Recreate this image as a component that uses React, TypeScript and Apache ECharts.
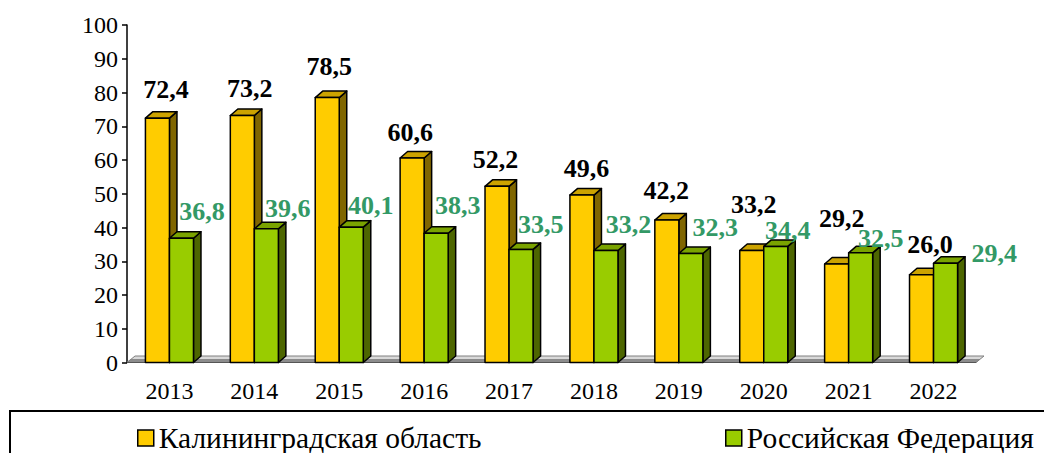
import React, { useEffect, useRef } from "react";
import * as echarts from "echarts";

const years = ["2013", "2014", "2015", "2016", "2017", "2018", "2019", "2020", "2021", "2022"];
const kaliningrad = [72.4, 73.2, 78.5, 60.6, 52.2, 49.6, 42.2, 33.2, 29.2, 26.0];
const russia = [36.8, 39.6, 40.1, 38.3, 33.5, 33.2, 32.3, 34.4, 32.5, 29.4];
const seriesNames = ["Калининградская область", "Российская Федерация"];
const yTicks = { min: 0, max: 100, interval: 10 };

// label nudges (pixels) relative to bar front-centre / top, as placed in the original
const kalLabelDX = [8.5, 7.5, 2, -2, -1.5, 4.5, -0.6, 2, 5, 8.5];
const kalLabelDY = [-29, -27, -31, -25.5, -27.3, -26.8, -30, -46, -45, -30.7];
const rusLabelDX = [20.5, 21.5, 19.5, 21.7, 19.8, 22.5, 24.5, 12, 20, 48.6];
const rusLabelDY = [-27, -20, -21.4, -27.4, -25.4, -26.4, -25.5, -16.4, -14.5, -9.3];

const FONT = "Liberation Serif, Times New Roman, serif";
const BAR_FRAC = 0.283;
const DX = 7.5;
const DY = -6.5;

const palettes = [
  { front: "#FFCC00", top: "#CCA300", side: "#806600", label: "#000000" },
  { front: "#99CC00", top: "#7AA300", side: "#4D6600", label: "#339966" },
];

const fmt = (v: number) => v.toFixed(1).replace(".", ",");

function makeRender(kind: number) {
  const pal = palettes[kind];
  const ldx = kind === 0 ? kalLabelDX : rusLabelDX;
  const ldy = kind === 0 ? kalLabelDY : rusLabelDY;
  return (params: any, api: any) => {
    const idx = api.value(0);
    const v = api.value(1);
    const p0 = api.coord([idx, 0]);
    const p1 = api.coord([idx, v]);
    const cx = p0[0];
    const y0 = p0[1];
    const y1 = p1[1];
    const band = api.size([1, 0])[0];
    const w = band * BAR_FRAC;
    const x0 = kind === 0 ? cx - w : cx;
    const x1 = x0 + w;
    const stroke = { stroke: "#000", lineWidth: 1.5, lineJoin: "round" };
    return {
      type: "group",
      children: [
        {
          type: "polygon",
          shape: { points: [[x1, y1], [x1 + DX, y1 + DY], [x1 + DX, y0 + DY], [x1, y0]] },
          style: { fill: pal.side, ...stroke },
        },
        {
          type: "polygon",
          shape: { points: [[x0, y1], [x0 + DX, y1 + DY], [x1 + DX, y1 + DY], [x1, y1]] },
          style: { fill: pal.top, ...stroke },
        },
        {
          type: "rect",
          shape: { x: x0, y: y1, width: w, height: y0 - y1 },
          style: { fill: pal.front, ...stroke },
        },
        {
          type: "text",
          z2: 100,
          x: x0 + w / 2 + ldx[idx],
          y: y1 + ldy[idx],
          style: {
            text: fmt(v),
            fill: pal.label,
            fontFamily: FONT,
            fontSize: 26,
            fontWeight: "bold",
            align: "center",
            verticalAlign: "middle",
          },
        },
      ],
    };
  };
}

function renderFloor(params: any, api: any) {
  const cs = params.coordSys;
  const xL = cs.x;
  const xR = cs.x + cs.width;
  const yB = cs.y + cs.height;
  return {
    type: "group",
    children: [
      {
        type: "polygon",
        shape: { points: [[xL, yB], [xL + 8, yB - 6.5], [xR + 8, yB - 6.5], [xR, yB]] },
        style: { fill: "#d9d9d9", stroke: "#808080", lineWidth: 1 },
      },
      {
        type: "polygon",
        shape: { points: [[xL, yB], [xL + 3.5, yB - 3], [xR + 3.5, yB - 3], [xR, yB]] },
        style: { fill: "#8c8c8c", stroke: "#808080", lineWidth: 0.8 },
      },
      {
        type: "line",
        shape: { x1: xL, y1: yB, x2: xR, y2: yB },
        style: { stroke: "#555", lineWidth: 1 },
      },
    ],
  };
}

export default function App() {
  const ref = useRef<HTMLDivElement>(null);
  useEffect(() => {
    if (!ref.current) return;
    const chart = echarts.init(ref.current, null, { renderer: "svg" });
    const legendCommon = {
      top: 418,
      icon: "rect",
      itemWidth: 16,
      itemHeight: 16,
      itemStyle: { borderColor: "#000", borderWidth: 1.5 },
      textStyle: { fontFamily: FONT, fontSize: 29.5, color: "#000" },
      selectedMode: false,
    };
    chart.setOption({
      animation: false,
      backgroundColor: "#ffffff",
      textStyle: { fontFamily: FONT },
      grid: { left: 127, top: 25, width: 849, height: 337.5, containLabel: false },
      legend: [
        { ...legendCommon, data: [seriesNames[0]], left: 132 },
        { ...legendCommon, data: [seriesNames[1]], left: 720 },
      ],
      graphic: [
        {
          type: "rect",
          shape: { x: 10, y: 411, width: 1200, height: 200 },
          style: { fill: "none", stroke: "#000", lineWidth: 2 },
          silent: true,
        },
      ],
      xAxis: {
        type: "category",
        data: years,
        axisLine: { show: false },
        axisTick: { show: false },
        axisLabel: { fontFamily: FONT, fontSize: 24, color: "#000", margin: 16 },
        splitLine: { show: false },
      },
      yAxis: {
        type: "value",
        min: yTicks.min,
        max: yTicks.max,
        interval: yTicks.interval,
        axisLine: { show: true, lineStyle: { color: "#000", width: 1.5 } },
        axisTick: { show: true, length: 5, lineStyle: { color: "#000", width: 1.5 } },
        axisLabel: { fontFamily: FONT, fontSize: 24, color: "#000", margin: 9 },
        splitLine: { show: false },
      },
      series: [
        {
          type: "custom",
          name: "floor",
          renderItem: renderFloor,
          data: [[0, 0]],
          encode: { x: 0, y: 1 },
          silent: true,
          z: 1,
        },
        {
          type: "custom",
          name: seriesNames[0],
          renderItem: makeRender(0),
          data: kaliningrad.map((v, i) => [i, v]),
          encode: { x: 0, y: 1 },
          itemStyle: { color: palettes[0].front },
          z: 2,
        },
        {
          type: "custom",
          name: seriesNames[1],
          renderItem: makeRender(1),
          data: russia.map((v, i) => [i, v]),
          encode: { x: 0, y: 1 },
          itemStyle: { color: palettes[1].front },
          z: 3,
        },
      ],
    });
    return () => chart.dispose();
  }, []);
  return (
    <div
      ref={ref}
      style={{ position: "absolute", left: 0, top: 0, width: 1044, height: 453, background: "#fff" }}
    />
  );
}
